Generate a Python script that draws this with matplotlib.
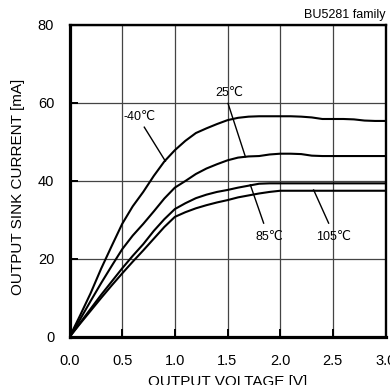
import matplotlib
matplotlib.use("Agg")
import matplotlib.pyplot as plt

plt.rcParams['font.family'] = ['Liberation Sans', 'DejaVu Sans']

voltage = [0, 0.1, 0.2, 0.3, 0.4, 0.5, 0.6, 0.7, 0.8, 0.9, 1.0, 1.1, 1.2, 1.3, 1.4,
           1.5, 1.6, 1.7, 1.8, 1.9, 2.0, 2.1, 2.2, 2.3, 2.4, 2.5, 2.6, 2.7, 2.8, 2.9, 3.0]
i_m40 = [0, 5.5, 11.2, 17.5, 23.3, 29.0, 33.5, 37.2, 41.3, 45.0, 47.9, 50.3, 52.3, 53.5, 54.6,
         55.6, 56.2, 56.5, 56.6, 56.6, 56.6, 56.6, 56.5, 56.3, 55.9, 55.9, 55.9, 55.8, 55.5, 55.4, 55.4]
i_25 = [0, 4.5, 9.2, 13.8, 18.2, 22.5, 26.0, 29.0, 32.2, 35.5, 38.3, 40.0, 41.8, 43.2, 44.3,
        45.3, 46.0, 46.3, 46.4, 46.8, 47.0, 47.0, 46.9, 46.5, 46.4, 46.4, 46.4, 46.4, 46.4, 46.4, 46.4]
i_85 = [0, 3.6, 7.2, 10.8, 14.2, 17.6, 20.8, 23.8, 27.2, 30.2, 32.8, 34.3, 35.6, 36.5, 37.2,
        37.7, 38.3, 38.8, 39.3, 39.4, 39.4, 39.4, 39.4, 39.4, 39.4, 39.4, 39.4, 39.4, 39.4, 39.4, 39.4]
i_105 = [0, 3.4, 6.7, 10.0, 13.2, 16.3, 19.3, 22.2, 25.2, 28.2, 30.8, 32.0, 33.0, 33.8, 34.5,
         35.1, 35.8, 36.3, 36.8, 37.2, 37.5, 37.5, 37.5, 37.5, 37.5, 37.5, 37.5, 37.5, 37.5, 37.5, 37.5]

xticks = [0.0, 0.5, 1.0, 1.5, 2.0, 2.5, 3.0]
xtick_labels = ["0.0", "0.5", "1.0", "1.5", "2.0", "2.5", "3.0"]
yticks = [0, 20, 40, 60, 80]

labels = ["-40\u2103", "25\u2103", "85\u2103", "105\u2103"]
label_pos = [(0.665, 56.4), (1.52, 62.5), (1.90, 25.6), (2.51, 25.6)]
leader_start = [(0.71, 53.8), (1.505, 59.9), (1.717, 39.0), (2.318, 37.7)]
leader_end = [(0.91, 45.1), (1.67, 46.2), (1.843, 29.2), (2.46, 29.2)]

fig = plt.figure(figsize=(3.9, 3.85), dpi=100)
ax = fig.add_axes([69.5 / 390, 1 - 337 / 385, (385.5 - 69.5) / 390, (337 - 25) / 385])

for ys in (i_m40, i_25, i_85, i_105):
    ax.plot(voltage, ys, color='black', lw=1.5, zorder=3)

ax.set_xlim(0, 3.0)
ax.set_ylim(0, 80)
ax.set_xticks(xticks)
ax.set_xticklabels(xtick_labels)
ax.set_yticks(yticks)
ax.grid(True, color='#444444', lw=0.9)
ax.tick_params(direction='in', length=6, width=1.4, labelsize=10.5, colors='black')
ax.tick_params(axis='y', pad=11)
ax.tick_params(axis='x', pad=12)

for side in ('left', 'bottom'):
    ax.spines[side].set_linewidth(2.3)
for side in ('top', 'right'):
    ax.spines[side].set_linewidth(1.7)

ax.set_xlabel("OUTPUT VOLTAGE [V]", fontsize=11, labelpad=5)
ax.set_ylabel("OUTPUT SINK CURRENT [mA]", fontsize=11)
ax.yaxis.set_label_coords(-0.14, 0.48)

for lab, (lx, ly), (sx, sy), (ex, ey) in zip(labels, label_pos, leader_start, leader_end):
    ax.text(lx, ly, lab, fontsize=9, ha='center', va='center', zorder=4)
    ax.plot([sx, ex], [sy, ey], color='black', lw=1.0, zorder=4)

ax.text(1.0, 1.012, "BU5281 family", transform=ax.transAxes, ha='right', va='bottom', fontsize=9)

fig.savefig("out.png", dpi=100)
